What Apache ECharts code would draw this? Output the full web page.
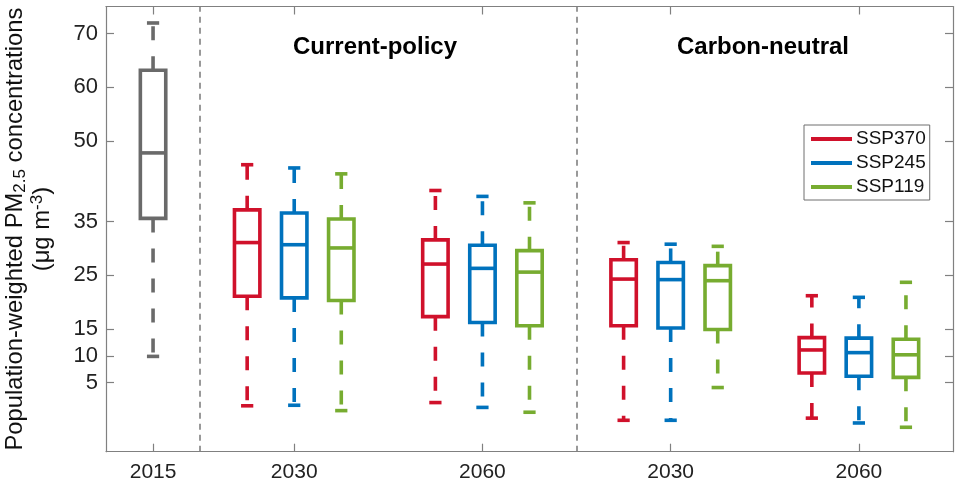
<!DOCTYPE html>
<html>
<head>
<meta charset="utf-8">
<script src="https://cdn.jsdelivr.net/npm/echarts@6/dist/echarts.min.js"></script>
<style>html,body{margin:0;padding:0;background:#fff;}#c{width:955px;height:481px;}</style>
</head>
<body>
<div id="c"></div>
<script>
// ---- data: each box = [min, Q1, median, Q3, max] ----
const xTickLabels = ['2015', '2030', '2060', '2030', '2060'];
const yTickLabels = [5, 10, 15, 25, 35, 50, 60, 70];
const panelTitles = ['Current-policy', 'Carbon-neutral'];
const scenarioNames = ['SSP370', 'SSP245', 'SSP119'];
const base2015 = [9.9, 35.6, 47.8, 63.2, 72.0];
// groups: current-policy 2030, current-policy 2060, carbon-neutral 2030, carbon-neutral 2060
const ssp370 = [
  [0.7, 21.1, 31.1, 37.2, 45.6],
  [1.3, 17.3, 27.1, 31.6, 40.8],
  [-2.0, 15.6, 24.3, 27.9, 31.1],
  [-1.6, 6.8, 11.1, 13.4, 21.2]
];
const ssp245 = [
  [0.8, 20.8, 30.7, 36.6, 45.0],
  [0.4, 16.2, 26.3, 30.6, 39.7],
  [-2.0, 15.2, 24.2, 27.4, 30.8],
  [-2.5, 6.2, 10.6, 13.3, 20.9]
];
const ssp119 = [
  [-0.2, 20.3, 30.1, 35.5, 43.9],
  [-0.5, 15.6, 25.6, 29.6, 38.5],
  [4.1, 14.9, 24.0, 26.8, 30.4],
  [-3.3, 6.0, 10.2, 13.1, 23.7]
];

// ---- layout helpers (slot positions on the x value axis) ----
const basePos = 1;
const groupPos = g => 4 + 4 * g;
const tickPos = [basePos, groupPos(0), groupPos(1), groupPos(2), groupPos(3)];
const colors = ['#d0112b', '#0072bd', '#77ac30'];
const grayColor = '#6a6a6a';
const FONT = "'Liberation Sans', Arial, Helvetica, sans-serif";

function renderBox(params, api) {
  const x = api.value(0);
  const mn = api.value(1), q1 = api.value(2), md = api.value(3), q3 = api.value(4), mx = api.value(5);
  const halfW = api.size([0.54, 0])[0] / 2;
  const capHalf = api.size([0.26, 0])[0] / 2;
  const pMin = api.coord([x, mn]);
  const pQ1 = api.coord([x, q1]);
  const pMd = api.coord([x, md]);
  const pQ3 = api.coord([x, q3]);
  const pMx = api.coord([x, mx]);
  const cx = pMd[0];
  const color = api.visual('color');
  const solid = { stroke: color, lineWidth: 3.6, fill: 'none' };
  const dashed = { stroke: color, lineWidth: 3.6, fill: 'none', lineDash: [14, 16] };
  return {
    type: 'group',
    children: [
      { type: 'line', shape: { x1: cx, y1: pQ3[1], x2: cx, y2: pMx[1] }, style: dashed },
      { type: 'line', shape: { x1: cx, y1: pQ1[1], x2: cx, y2: pMin[1] }, style: dashed },
      { type: 'line', shape: { x1: cx - capHalf, y1: pMx[1], x2: cx + capHalf, y2: pMx[1] }, style: solid },
      { type: 'line', shape: { x1: cx - capHalf, y1: pMin[1], x2: cx + capHalf, y2: pMin[1] }, style: solid },
      { type: 'rect', shape: { x: cx - halfW, y: pQ3[1], width: 2 * halfW, height: pQ1[1] - pQ3[1] }, style: { stroke: color, lineWidth: 3.6, fill: '#fff' } },
      { type: 'line', shape: { x1: cx - halfW, y1: pMd[1], x2: cx + halfW, y2: pMd[1] }, style: solid }
    ]
  };
}

const scenarioData = [ssp370, ssp245, ssp119];
const series = [];
series.push({
  name: 'Baseline',
  type: 'custom',
  renderItem: renderBox,
  itemStyle: { color: grayColor },
  encode: { x: 0, y: [1, 2, 3, 4, 5] },
  data: [[basePos].concat(base2015)],
  markLine: {
    silent: true,
    symbol: 'none',
    label: { show: false },
    lineStyle: { color: '#808080', type: [6, 5], width: 1.6 },
    data: [{ xAxis: 2 }, { xAxis: 10 }]
  },
  z: 3
});
scenarioNames.forEach((name, s) => {
  series.push({
    name: name,
    type: 'custom',
    renderItem: renderBox,
    itemStyle: { color: colors[s] },
    encode: { x: 0, y: [1, 2, 3, 4, 5] },
    data: scenarioData[s].map((box, g) => [groupPos(g) + (s - 1)].concat(box)),
    z: 3
  });
});

const axisLineStyle = { color: '#808080', width: 1.2 };
const option = {
  animation: false,
  textStyle: { fontFamily: FONT },
  grid: { left: 106, right: 2, top: 6.5, bottom: 29.3, containLabel: false, outerBoundsMode: 'none' },
  title: [
    { text: panelTitles[0], left: 293, top: 35, textStyle: { fontFamily: FONT, fontSize: 24, fontWeight: 'bold', color: '#000' }, padding: 0 },
    { text: panelTitles[1], left: 677, top: 35, textStyle: { fontFamily: FONT, fontSize: 24, fontWeight: 'bold', color: '#000' }, padding: 0 }
  ],
  legend: {
    data: scenarioNames,
    orient: 'vertical',
    left: 804,
    top: 125,
    icon: 'rect',
    itemWidth: 41,
    itemHeight: 4,
    itemGap: 4,
    padding: [4, 4, 3, 7],
    borderColor: '#6e6e6e',
    borderWidth: 1,
    backgroundColor: '#fff',
    textStyle: { fontFamily: FONT, fontSize: 19, color: '#111', lineHeight: 20, padding: [0, 0, 0, -1] },
    selectedMode: false
  },
  xAxis: [
    {
      type: 'value', min: 0, max: 18, position: 'bottom',
      splitLine: { show: false },
      axisLine: { show: true, onZero: false, lineStyle: axisLineStyle },
      axisTick: { show: true, inside: true, length: 8, customValues: tickPos, lineStyle: axisLineStyle },
      axisLabel: {
        customValues: tickPos, fontSize: 21, color: '#222', margin: 10, fontFamily: FONT,
        formatter: v => { const i = tickPos.indexOf(v); return i >= 0 ? xTickLabels[i] : ''; }
      }
    },
    {
      type: 'value', min: 0, max: 18, position: 'top',
      splitLine: { show: false },
      axisLine: { show: true, onZero: false, lineStyle: axisLineStyle },
      axisTick: { show: true, inside: true, length: 8, customValues: tickPos, lineStyle: axisLineStyle },
      axisLabel: { show: false }
    }
  ],
  yAxis: [
    {
      type: 'value', min: -7.85, max: 75.07, position: 'left',
      splitLine: { show: false },
      axisLine: { show: true, onZero: false, lineStyle: axisLineStyle },
      axisTick: { show: true, inside: true, length: 8, customValues: yTickLabels, lineStyle: axisLineStyle },
      axisLabel: { customValues: yTickLabels, fontSize: 22, color: '#222', margin: 8, fontFamily: FONT },
      name: 'Population-weighted PM{sub|2.5} concentrations\n(μg m{sup|-3})',
      nameLocation: 'middle',
      nameRotate: 90,
      nameGap: 50,
      nameTextStyle: {
        fontFamily: FONT, fontSize: 23.8, color: '#111', lineHeight: 27, align: 'center',
        rich: {
          sub: { fontFamily: FONT, fontSize: 17, color: '#111', verticalAlign: 'bottom', padding: [10, 0, 0, 0], lineHeight: 27 },
          sup: { fontFamily: FONT, fontSize: 17, color: '#111', verticalAlign: 'top', padding: [0, 0, 10, 0], lineHeight: 27 }
        }
      }
    },
    {
      type: 'value', min: -7.85, max: 75.07, position: 'right',
      splitLine: { show: false },
      axisLine: { show: true, onZero: false, lineStyle: axisLineStyle },
      axisTick: { show: true, inside: true, length: 8, customValues: yTickLabels, lineStyle: axisLineStyle },
      axisLabel: { show: false }
    }
  ],
  series: series
};

const chart = echarts.init(document.getElementById('c'), null, { renderer: 'canvas' });
chart.setOption(option);
</script>
</body>
</html>
